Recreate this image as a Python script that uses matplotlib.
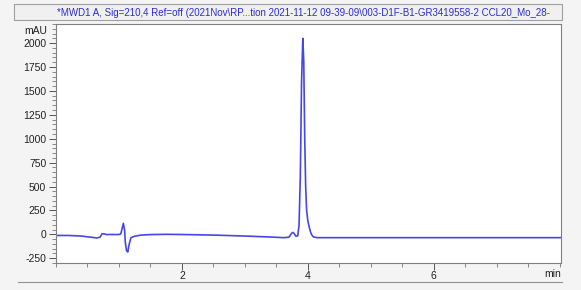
import matplotlib
matplotlib.use("Agg")
import matplotlib.pyplot as plt
from matplotlib.patches import Rectangle
from matplotlib.lines import Line2D
from matplotlib.ticker import MultipleLocator

plt.rcParams['font.family'] = ['Liberation Sans', 'DejaVu Sans']

# chromatogram (min, mAU)
tempo = [0.00, 0.20, 0.40, 0.55, 0.65, 0.70, 0.73, 0.76, 0.80, 0.90,
         1.00, 1.03, 1.05, 1.07, 1.09, 1.10, 1.12, 1.14, 1.16, 1.19,
         1.25, 1.35, 1.50, 1.75, 2.00, 2.50, 3.00, 3.40, 3.62, 3.70,
         3.74, 3.76, 3.78, 3.81, 3.84, 3.86, 3.88, 3.90, 3.92, 3.935,
         3.95, 3.965, 3.98, 4.00, 4.02, 4.04, 4.06, 4.09, 4.15, 5.00,
         6.00, 7.00, 8.02]
sinal = [-12, -12, -18, -30, -38, -30, 5, 5, -2, -2,
         -2, 5, 60, 115, 40, -80, -170, -185, -110, -35,
         -20, -8, -3, 0, -2, -8, -18, -28, -35, -30,
         10, 20, 10, -20, -15, 100, 600, 1600, 2050, 1800,
         1000, 500, 250, 140, 80, 30, -5, -28, -35, -35,
         -35, -35, -35]

y_ticks = [-250, 0, 250, 500, 750, 1000, 1250, 1500, 1750, 2000]
x_ticks = [2, 4, 6]
titulo = ("*MWD1 A, Sig=210,4 Ref=off (2021Nov\\RP...tion 2021-11-12 09-39-09"
          "\\003-D1F-B1-GR3419558-2 CCL20_Mo_28-")

W, H = 581, 290
fig = plt.figure(figsize=(W / 100, H / 100), dpi=100, facecolor='#f4f4f4')

# faixa do titulo
faixa = Rectangle((14 / W, 1 - 20 / H), (562 - 14) / W, 16 / H,
                  transform=fig.transFigure, facecolor='#f0f0f0',
                  edgecolor='#a0a0a0', linewidth=0.8)
fig.patches.append(faixa)
t = fig.text(57 / W, 1 - 13 / H, titulo, color='#2b2bd8', fontsize=7.0,
             va='center', ha='left')
t.set_clip_path(faixa)

# linha inferior
fig.add_artist(Line2D([18 / W, 562 / W], [1 - 282 / H, 1 - 282 / H],
                      transform=fig.transFigure, color='#909090', lw=0.8))

ax = fig.add_axes([56 / W, 1 - 263 / H, (561 - 56) / W, (263 - 24) / H])
ax.set_facecolor('white')
ax.plot(tempo, sinal, color='#4646e6', lw=1.2)

ax.set_xlim(0, 8.02)
ax.set_ylim(-300, 2200)
ax.set_yticks(y_ticks)
ax.set_yticklabels([str(v) for v in y_ticks])
ax.yaxis.set_minor_locator(MultipleLocator(50))
ax.set_xticks(x_ticks)
ax.set_xticklabels([str(v) for v in x_ticks])
ax.xaxis.set_minor_locator(MultipleLocator(0.5))

ax.tick_params(axis='both', which='major', labelsize=7.5, colors='#555555',
               labelcolor='#222222', length=5, width=0.7, pad=2)
ax.tick_params(axis='both', which='minor', colors='#777777', length=3, width=0.6)
ax.tick_params(axis='x', pad=1)
for s in ax.spines.values():
    s.set_color('#808080')
    s.set_linewidth(0.8)

fig.text(47 / W, 1 - 31 / H, 'mAU', fontsize=7.5, color='#222222',
         ha='right', va='center')
fig.text(553 / W, 1 - 274 / H, 'min', fontsize=7.5, color='#222222',
         ha='center', va='center')

plt.savefig('out.png', dpi=100, facecolor=fig.get_facecolor())
